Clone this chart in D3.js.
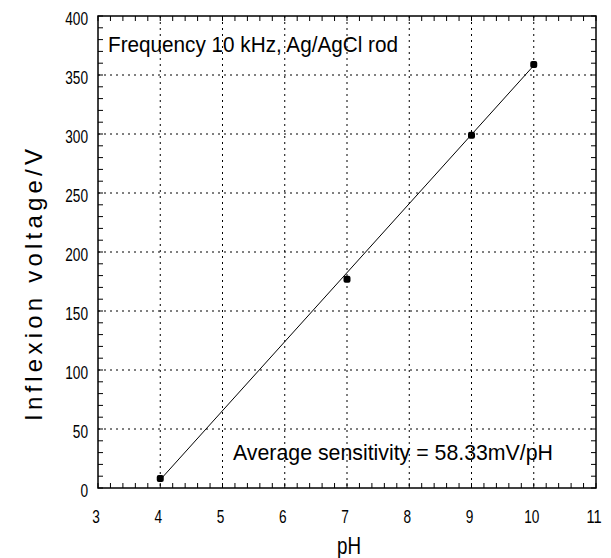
<!DOCTYPE html>
<html><head><meta charset="utf-8">
<script src="https://cdn.jsdelivr.net/npm/d3@7"></script>
<style>
html,body{margin:0;padding:0;background:#fff;}
svg{display:block;}
text{font-family:"Liberation Sans Narrow","Liberation Sans",sans-serif;fill:#000;}
</style></head>
<body>
<svg id="chart" width="611" height="558"></svg>
<script>
const pH = [4, 7, 9, 10];
const voltage = [8, 177, 299, 359];
const fitX = [4, 10];
const fitY = [7, 358];
const xTicks = [3, 4, 5, 6, 7, 8, 9, 10, 11];
const yTicks = [0, 50, 100, 150, 200, 250, 300, 350, 400];
const xLabel = "pH";
const yLabel = "Inflexion voltage/V";
const note1 = "Frequency 10 kHz, Ag/AgCl rod";
const note2 = "Average sensitivity = 58.33mV/pH";

const svg = d3.select("#chart");
const L = 98, R = 596, T = 16, B = 488;
const x = d3.scaleLinear().domain([3, 11]).range([L, R]);
const y = d3.scaleLinear().domain([0, 400]).range([B, T]);

// grid
const g = svg.append("g");
g.selectAll(".gx").data(xTicks.slice(1, -1)).join("line")
  .attr("x1", d => x(d)).attr("x2", d => x(d)).attr("y1", T).attr("y2", B)
  .attr("stroke", "#000").attr("stroke-width", 1).attr("stroke-dasharray", "2,4");
g.selectAll(".gy").data(yTicks.slice(1, -1)).join("line")
  .attr("y1", d => y(d)).attr("y2", d => y(d)).attr("x1", L).attr("x2", R)
  .attr("stroke", "#000").attr("stroke-width", 1).attr("stroke-dasharray", "2,4");

// minor ticks
const xMinor = d3.range(3, 11.001, 0.2);
const yMinor = d3.range(0, 400.1, 10);
svg.append("g").selectAll("line").data(xMinor).join("line")
  .attr("x1", d => x(d)).attr("x2", d => x(d)).attr("y1", B).attr("y2", B - 5)
  .attr("stroke", "#000").attr("stroke-width", 1);
svg.append("g").selectAll("line").data(xMinor).join("line")
  .attr("x1", d => x(d)).attr("x2", d => x(d)).attr("y1", T).attr("y2", T + 5)
  .attr("stroke", "#000").attr("stroke-width", 1);
svg.append("g").selectAll("line").data(yMinor).join("line")
  .attr("y1", d => y(d)).attr("y2", d => y(d)).attr("x1", L).attr("x2", L + 5)
  .attr("stroke", "#000").attr("stroke-width", 1);
svg.append("g").selectAll("line").data(yMinor).join("line")
  .attr("y1", d => y(d)).attr("y2", d => y(d)).attr("x1", R).attr("x2", R - 5)
  .attr("stroke", "#000").attr("stroke-width", 1);

// frame
svg.append("rect").attr("x", L).attr("y", T).attr("width", R - L).attr("height", B - T)
  .attr("fill", "none").attr("stroke", "#000").attr("stroke-width", 1.5);

// axes labels (narrow glyphs)
svg.append("g").selectAll("text").data(xTicks).join("text")
  .attr("x", d => x(d) - 2 - 3.8 * String(d).length).attr("y", 523)
  .attr("font-size", 19)
  .attr("textLength", d => 7.6 * String(d).length).attr("lengthAdjust", "spacingAndGlyphs")
  .text(d => d);
svg.append("g").selectAll("text").data(yTicks).join("text")
  .attr("x", d => 88 - 7.6 * String(d).length).attr("y", d => y(d) + 9)
  .attr("font-size", 19)
  .attr("textLength", d => 7.6 * String(d).length).attr("lengthAdjust", "spacingAndGlyphs")
  .text(d => d);

svg.append("text").attr("x", 337).attr("y", 554)
  .attr("font-size", 24).attr("textLength", 24).attr("lengthAdjust", "spacingAndGlyphs")
  .text(xLabel);
svg.append("text").attr("transform", "translate(42,285) rotate(-90)")
  .attr("text-anchor", "middle").attr("font-size", 24)
  .attr("textLength", 272).attr("lengthAdjust", "spacing").text(yLabel);

// fit line
svg.append("line")
  .attr("x1", x(fitX[0])).attr("y1", y(fitY[0]))
  .attr("x2", x(fitX[1])).attr("y2", y(fitY[1]))
  .attr("stroke", "#000").attr("stroke-width", 1);

// points
svg.append("g").selectAll("rect").data(pH).join("rect")
  .attr("x", (d, i) => x(d) - 3.5).attr("y", (d, i) => y(voltage[i]) - 3.5)
  .attr("width", 7).attr("height", 7).attr("rx", 2).attr("fill", "#000");

// notes
svg.append("text").attr("x", 108).attr("y", 52).attr("font-size", 22)
  .attr("textLength", 290).attr("lengthAdjust", "spacingAndGlyphs").text(note1);
svg.append("text").attr("x", 233).attr("y", 460).attr("font-size", 22)
  .attr("textLength", 320).attr("lengthAdjust", "spacingAndGlyphs").text(note2);
</script>
</body></html>
